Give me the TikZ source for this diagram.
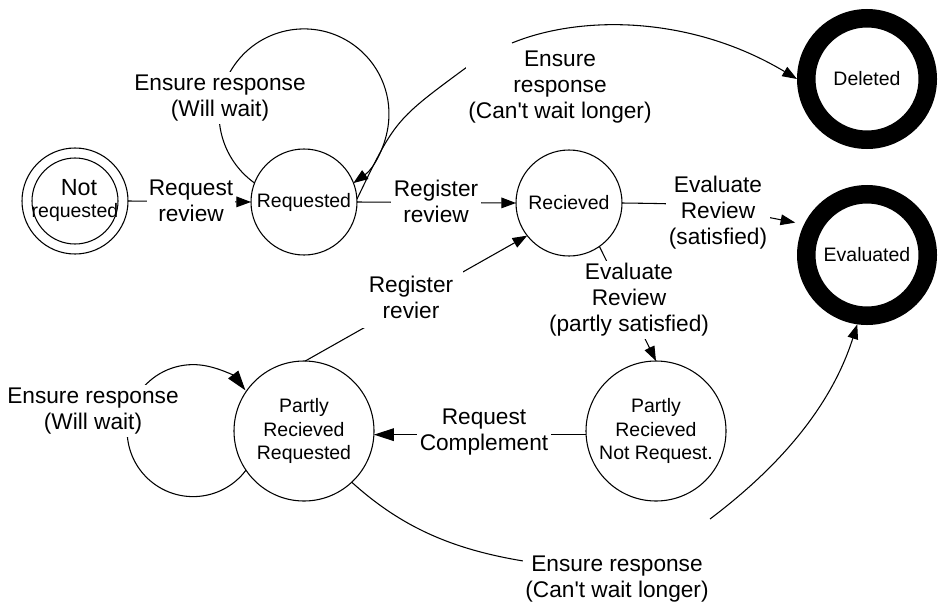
\documentclass[tikz,border=0pt]{standalone}
\usepackage{fontspec}
\setmainfont{Liberation Sans}[Ligatures=TeXOff]
\usetikzlibrary{arrows.meta}
\begin{document}
\begin{tikzpicture}[x=0.75pt,y=-0.75pt,line width=0.8pt,
  st/.style={circle,draw,inner sep=0pt,outer sep=0pt,minimum size=79.5pt,align=center,font=\fontsize{14.6}{17.6}\selectfont},
  bigst/.style={st,minimum size=105pt},
  fin/.style={circle,draw,line width=13.9pt,minimum size=91.1pt,inner sep=0pt,outer sep=6.95pt,align=center,font=\fontsize{14.6}{17.6}\selectfont},
  lbl/.style={fill=white,inner sep=2pt,align=center,font=\fontsize{17}{19.5}\selectfont},
  arr/.style={-{Triangle[length=11pt,width=8pt]}},
  barr/.style={-{Triangle[length=15pt,width=9.5pt]}}]
\useasboundingbox (0,0) rectangle (938,603);

% states
\node[st] (nr) at (75,201) {};
\draw (nr.center) circle[radius=43];
\node[font=\fontsize{17.5}{20}\selectfont,inner sep=0pt] (nrt1) at (79,188) {Not};
\node[font=\fontsize{14.6}{17}\selectfont,inner sep=0pt] (nrt2) at (75,212) {requested};
\node[st] (req) at (304,202) {Requested};
\node[st] (rec) at (569,203) {Recieved};
\node[fin] (del) at (867,79) {Deleted};
\node[fin] (eval) at (867,255) {Evaluated};
\node[bigst] (prr) at (304,431) {Partly\\Recieved\\Requested};
\node[bigst] (prnr) at (656,431) {Partly\\Recieved\\Not Request.};

% free ends
\coordinate (c1) at (467,67);
\coordinate (c2) at (512,43);
\coordinate (c3) at (560,566);
\coordinate (c4) at (710,519);

% transitions
\draw[arr] (nr.east) -- (req.west);
\draw[arr] (req.east) -- (rec.west);
\draw[arr] (req.159) arc[start angle=125.6,end angle=414.5,radius=85];
\draw (req.3) .. controls (395,120) .. (c1);
\draw[arr] (c2) .. controls (580,15) and (690,15) .. (del.180);
\draw[arr,shorten >=6.75pt] (rec.east) .. controls (700,204) .. (eval.154);
\draw[arr] (rec.-55) -- (prnr.north);
\draw[barr] (prnr.183) -- (prr.-3);
\draw[arr] (prr.89) -- (rec.218);
\draw[barr] (prr.214.8) arc[start angle=36.8,end angle=322.4,radius=66];
\draw (prr.-47) .. controls (410,535) and (470,556) .. (c3);
\draw[arr] (c4) .. controls (775,470) and (830,410) .. (eval.-98);

% labels
\node[lbl,inner sep=1pt] (l1) at (191,201) {Request\\review};
\node[lbl] (l2) at (436,201) {Register\\review};
\node[lbl] (l3) at (220,98) {Ensure response\\(Will wait)};
\node[lbl] (l4) at (560,87) {Ensure\\response\\(Can't wait longer)};
\node[lbl] (l5) at (718,213) {Evaluate\\Review\\(satisfied)};
\node[lbl] (l6) at (629,300) {Evaluate\\Review\\(partly satisfied)};
\node[lbl,inner sep=7pt] (l7) at (411,297) {Register\\revier};
\node[lbl] (l8) at (484,432) {Request\\Complement};
\node[lbl] (l9) at (93,411) {Ensure response\\(Will wait)};
\node[lbl] (l10) at (617,579) {Ensure response\\(Can't wait longer)};
\end{tikzpicture}
\end{document}
